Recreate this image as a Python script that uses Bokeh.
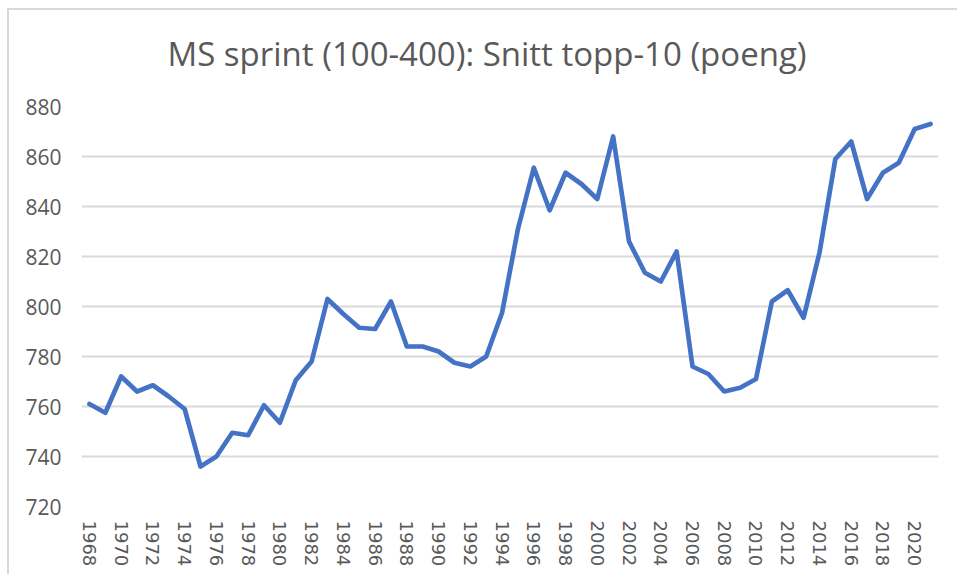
from bokeh.plotting import figure
from bokeh.models import Range1d, FixedTicker, Title
from bokeh.embed import file_html
from bokeh.resources import INLINE

# ---- data ----
years = list(range(1968, 2022))
avg_top10 = [
    761, 757.5, 772, 766, 768.5, 764, 759, 736, 740, 749.5,
    748.5, 760.5, 753.5, 770.5, 778, 803, 797, 791.5, 791, 802,
    784, 784, 782, 777.5, 776, 780, 797.5, 831, 855.5, 838.5,
    853.5, 849, 843, 868, 826, 813.5, 810, 822, 776, 773,
    766, 767.5, 771, 802, 806.5, 795.5, 821.5, 859, 866, 843,
    853.5, 857.5, 871, 873,
]
x_ticks = list(range(1968, 2022, 2))
y_ticks = [720, 740, 760, 780, 800, 820, 840, 860, 880]
title_text = "MS sprint (100-400): Snitt topp-10 (poeng)"

p = figure(
    width=950, height=566,
    output_backend="svg", toolbar_location=None,
    x_range=Range1d(years[0] - 0.5, years[-1] + 0.5),
    y_range=Range1d(720, 880),
    min_border_left=72, min_border_right=21,
    min_border_top=96, min_border_bottom=70,
    title=title_text,
)
p.styles = {
    "margin-left": "7px", "margin-top": "8px",
    "border-left": "2px solid #d9d9d9", "border-top": "2px solid #d9d9d9",
}

# invisible spacer between title and plot frame
spacer = Title(text=" ", text_font_size="1px", standoff=23)
p.add_layout(spacer, "above")

p.title.align = "left"
p.title.offset = 86
p.title.text_font = "Open Sans"
p.title.text_font_size = "33px"
p.title.text_font_style = "normal"
p.title.text_color = "#595959"
p.title.standoff = 10

p.outline_line_color = None
p.background_fill_color = "white"
p.border_fill_color = "white"

p.xgrid.grid_line_color = None
p.ygrid.grid_line_color = "#d9d9d9"
p.ygrid.grid_line_width = 2

p.xaxis.ticker = FixedTicker(ticks=x_ticks)
p.yaxis.ticker = FixedTicker(ticks=y_ticks)

for ax in (p.xaxis, p.yaxis):
    ax.axis_line_color = None
    ax.major_tick_line_color = None
    ax.minor_tick_line_color = None
    ax.major_tick_in = 0
    ax.major_tick_out = 0
    ax.major_label_text_color = "#595959"

p.yaxis.major_label_text_font = "Open Sans"
p.yaxis.major_label_text_font_size = "21px"
p.yaxis.major_label_standoff = 20

p.xaxis.major_label_text_font = "DejaVu Sans"
p.xaxis.major_label_text_font_size = "18px"
p.xaxis.major_label_orientation = "vertical"
p.xaxis.major_label_standoff = 14
p.xaxis.formatter.use_scientific = False

p.line(years, avg_top10, line_color="#4472C4", line_width=4.7,
       line_join="round", line_cap="round")

open("out.html", "w").write(file_html(p, INLINE))
